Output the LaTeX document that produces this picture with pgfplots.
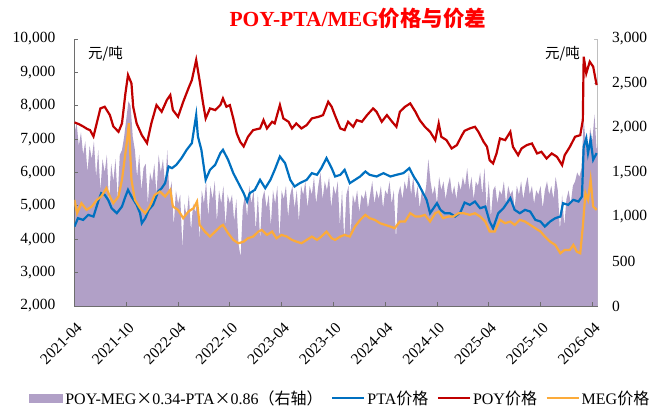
\documentclass[border=0pt]{standalone}
\usepackage{fontspec}
\setmainfont{Liberation Serif}
\newfontfamily\cjk{Noto Sans CJK SC}
\usepackage{pgfplots}
\pgfplotsset{compat=1.18}

\definecolor{spreadc}{RGB}{177,160,199}
\definecolor{ptac}{RGB}{0,112,192}
\definecolor{poyc}{RGB}{192,0,0}
\definecolor{megc}{RGB}{252,171,58}
\definecolor{axgray}{RGB}{110,110,110}
\definecolor{axlight}{RGB}{191,191,191}

\newcommand{\tickfont}{\fontsize{15.5bp}{18bp}\selectfont}
\newcommand{\legfont}{\fontsize{16bp}{18bp}\selectfont}

\pgfplotsset{
  base/.style={
    width=523bp, height=267bp, scale only axis,
    xmin=0, xmax=60.6, enlargelimits=false,
    tick align=inside, major tick length=4bp,
    ticklabel style={font=\tickfont},
    /pgf/number format/assume math mode=true,
    /pgf/number format/1000 sep={,},
    scaled y ticks=false,
  }
}

\begin{document}
\begin{tikzpicture}
% spread, right axis
\begin{axis}[base,
    axis x line=none,
    axis y line*=right,
    y axis line style={axlight, line width=0.8bp, -},
    ytick style={axlight, line width=0.8bp},
    ymin=0, ymax=3000, ytick={0,500,...,3000},
    yticklabel style={inner sep=0pt, xshift=14.5bp},
]
\addplot[fill=spreadc, draw=none] coordinates {
(0,1950) (0.25,2050) (0.5,1800) (0.75,1950) (1,1700) (1.25,1850) (1.5,1500) (1.75,1800)
(2,1650) (2.25,1850) (2.5,1450) (2.75,1750) (3,1300) (3.25,1650) (3.5,1500) (3.75,1700)
(4,1150) (4.25,1600) (4.5,1400) (4.75,1650) (5,1200) (5.25,1700) (5.5,1750) (5.75,1900)
(6,2100) (6.25,2300) (6.5,2250) (6.75,1900) (7,1750) (7.25,1450) (7.5,1700) (7.75,1300)
(8,1550) (8.25,1600) (8.5,1150) (8.75,1500) (9,1400) (9.25,1600) (9.5,1250) (9.75,1700)
(10,1500) (10.25,1650) (10.5,1350) (10.75,1750) (11,1250) (11.25,1400) (11.5,900) (11.75,1300)
(12,1150) (12.25,1250) (12.5,650) (12.75,1150) (13,1000) (13.25,1250) (13.5,850) (13.75,1150)
(14,1050) (14.25,1200) (14.5,750) (14.75,1300) (15,1150) (15.25,1400) (15.5,1000) (15.75,1350)
(16,1200) (16.25,1400) (16.5,950) (16.75,1300) (17,1150) (17.25,1350) (17.5,900) (17.75,1250)
(18,1150) (18.25,1250) (18.5,950) (18.75,1200) (19,700) (19.25,550) (19.5,1100) (19.75,1250)
(20,1000) (20.25,1350) (20.5,1150) (20.75,1300) (21,850) (21.25,1250) (21.5,750) (21.75,1200)
(22,1300) (22.25,1100) (22.5,1250) (22.75,900) (23,1300) (23.25,1150) (23.5,1350) (23.75,750)
(24,1300) (24.25,1200) (24.5,1350) (24.75,1000) (25,1250) (25.25,1350) (25.5,1100) (25.75,1300)
(26,950) (26.25,1350) (26.5,1250) (26.75,1400) (27,1100) (27.25,1350) (27.5,1250) (27.75,1450)
(28,1150) (28.25,1350) (28.5,1500) (28.75,1200) (29,1400) (29.25,1300) (29.5,1450) (29.75,1100)
(30,1350) (30.25,1250) (30.5,1400) (30.75,900) (31,1300) (31.25,750) (31.5,1250) (31.75,1350)
(32,800) (32.25,1250) (32.5,1150) (32.75,1300) (33,1050) (33.25,1250) (33.5,1200) (33.75,1300)
(34,1100) (34.25,1250) (34.5,1400) (34.75,1150) (35,1300) (35.25,1200) (35.5,1350) (35.75,1100)
(36,1300) (36.25,1250) (36.5,1400) (36.75,1150) (37,1300) (37.25,750) (37.5,1250) (37.75,1350)
(38,1200) (38.25,1400) (38.5,1300) (38.75,1500) (39,1250) (39.25,1450) (39.5,1200) (39.75,1350)
(40,1100) (40.25,1300) (40.5,1200) (40.75,1350) (41,1650) (41.25,1400) (41.5,1250) (41.75,1350)
(42,1150) (42.25,1450) (42.5,1300) (42.75,1400) (43,1200) (43.25,1350) (43.5,1450) (43.75,1250)
(44,1350) (44.25,1200) (44.5,1400) (44.75,1300) (45,1450) (45.25,1350) (45.5,1550) (45.75,1300)
(46,1450) (46.25,1200) (46.5,1400) (46.75,1350) (47,1500) (47.25,1250) (47.5,1550) (47.75,1100)
(48,1400) (48.25,1000) (48.5,1300) (48.75,1350) (49,1150) (49.25,1300) (49.5,1250) (49.75,1400)
(50,1150) (50.25,1350) (50.5,1250) (50.75,1300) (51,1100) (51.25,1350) (51.5,1250) (51.75,1400)
(52,1200) (52.25,1350) (52.5,1450) (52.75,1250) (53,1350) (53.25,1150) (53.5,1300) (53.75,1250)
(54,1350) (54.25,1100) (54.5,1300) (54.75,1400) (55,1250) (55.25,1350) (55.5,1200) (55.75,1450)
(56,1300) (56.25,850) (56.5,1250) (56.75,900) (57,1200) (57.25,1300) (57.5,1150) (57.75,1350)
(58,1400) (58.25,1500) (58.5,1450) (58.75,1550) (59,2100) (59.25,1800) (59.5,1700) (59.75,2000)
(60,1850) (60.25,2150) (60.5,1750) (60.6,1800)
} \closedcycle;
\end{axis}

% prices, left axis
\begin{axis}[base,
    axis x line*=bottom,
    axis y line*=left,
    axis line style={axgray, line width=0.8bp, -},
    tick style={axgray, line width=0.8bp},
    ymin=2000, ymax=10000, ytick={2000,3000,...,10000},
    yticklabel style={inner sep=0pt, xshift=-19bp},
    xtick={0,6,...,60},
    xticklabels={2021-04,2021-10,2022-04,2022-10,2023-04,2023-10,2024-04,2024-10,2025-04,2025-10,2026-04},
    xticklabel style={xshift=5bp, yshift=-19bp, rotate=45, anchor=east, inner sep=0pt},
    legend style={draw=none, fill=none, at={(0.508,-0.345)}, anchor=center,
      legend columns=4, font=\legfont, inner sep=0pt,
      /tikz/every even column/.append style={column sep=6.5bp}},
    legend image code/.code={\draw[#1] (0bp,0bp) -- (32bp,0bp);},
    every axis plot/.append style={line width=2.2bp},
]
\addlegendimage{legend image code/.code={\fill[spreadc] (0bp,-3.5bp) rectangle (32bp,3.5bp);}}
\addlegendentry{POY-MEG{\cjk ×}0.34-PTA{\cjk ×}0.86{\cjk （右轴）}}

% PTA
\addplot[ptac] coordinates {
(0,4380) (0.4,4630) (1.0,4580) (1.6,4730) (2.2,4680) (2.8,5180) (3.1,5380) (3.5,5330)
(3.9,5180) (4.3,4930) (4.9,4780) (5.5,4980) (5.9,5280) (6.2,5480) (6.6,5280) (7.2,5030)
(7.6,4780) (7.8,4480) (8.2,4630) (8.6,4880) (9.1,5030) (9.7,5430) (10.1,5530) (10.5,5680)
(10.9,6180) (11.3,6130) (11.8,6230) (12.4,6430) (13.0,6680) (13.6,6880) (14.1,7720) (14.3,7080)
(14.7,6680) (15.2,5780) (15.7,6080) (16.3,6230) (16.9,6580) (17.2,6680) (17.8,6380) (18.4,5980)
(19.0,5680) (19.6,5380) (20.0,5130) (20.3,5380) (20.9,5480) (21.5,5780) (22.1,5530) (22.7,5780)
(23.2,6080) (23.8,6480) (24.4,6280) (25.0,5780) (25.5,5580) (26.1,5680) (26.9,5780) (27.5,5980)
(28.1,5930) (28.6,6130) (29.2,6430) (29.8,6130) (30.2,5880) (30.8,5930) (31.3,6080) (31.9,5680)
(32.5,5780) (33.1,5880) (33.7,6030) (34.2,5930) (35.0,5880) (35.8,5980) (36.6,5880) (37.3,5930)
(38.1,5980) (38.8,6130) (39.3,5880) (39.8,5680) (40.4,5380) (40.8,5180) (41.2,4780) (41.6,4930)
(42.0,5080) (42.4,4880) (42.9,4780) (43.5,4780) (44.1,4680) (44.7,4800) (45.2,5100) (45.8,5030)
(46.4,5130) (47.0,4930) (47.6,4980) (48.1,4530) (48.5,4330) (49.1,4780) (49.7,4930) (50.5,5230)
(51.0,4880) (51.6,4780) (52.2,4880) (52.8,4830) (53.4,4580) (54.0,4530) (54.5,4380) (55.1,4530)
(55.7,4630) (56.3,4680) (56.6,5080) (57.2,5030) (57.8,5180) (58.4,5130) (58.8,5280) (59.0,6780)
(59.3,7030) (59.5,6580) (59.8,6980) (60.1,6380) (60.5,6580)
};
\addlegendentry{PTA{\cjk 价格}}

% POY
\addplot[poyc] coordinates {
(0,7500) (0.5,7450) (1.0,7380) (1.5,7300) (1.8,7270) (2.2,7080) (2.6,7500) (3.0,7920)
(3.5,7970) (4.1,7720) (4.5,7380) (5.1,7220) (5.5,7470) (5.9,8370) (6.2,8920) (6.6,8670)
(6.8,7970) (7.2,7470) (7.8,7120) (8.4,6880) (8.9,7470) (9.5,8020) (10.1,7820) (10.7,8170)
(11.1,8320) (11.4,7870) (12.0,7670) (12.6,8120) (13.2,8520) (13.6,8770) (14.1,9370) (14.5,8750)
(14.9,8070) (15.2,7620) (15.7,7920) (16.3,7870) (16.9,8020) (17.2,8220) (17.6,7970) (18.0,8020)
(18.4,7620) (18.8,7170) (19.2,6920) (19.6,6780) (20.1,7070) (20.7,7270) (21.5,7320) (21.9,7570)
(22.3,7320) (22.9,7520) (23.2,7470) (23.8,8020) (24.2,7620) (24.8,7520) (25.2,7320) (25.7,7470)
(26.3,7320) (26.9,7420) (27.5,7620) (28.3,7670) (28.8,7720) (29.4,8120) (29.8,7970) (30.2,7700)
(30.8,7320) (31.3,7270) (31.7,7520) (32.3,7370) (32.7,7570) (33.3,7520) (33.9,7720) (34.6,7920)
(35.0,7820) (35.6,7520) (36.2,7720) (36.8,7520) (37.3,7370) (37.7,7820) (38.3,7970) (38.9,8070)
(39.5,7820) (40.0,7570) (40.6,7370) (41.2,7220) (41.8,6970) (42.2,7470) (42.5,7070) (43.1,6970)
(43.7,6720) (44.3,6820) (44.9,7120) (45.2,7250) (45.8,7320) (46.4,7370) (46.8,7220) (47.4,6920)
(47.8,6770) (48.1,6370) (48.5,6270) (48.9,6570) (49.3,7020) (49.9,6970) (50.5,7220) (50.8,6770)
(51.4,6520) (51.8,6720) (52.4,6820) (53.0,6870) (53.6,6570) (54.1,6620) (54.7,6420) (55.3,6570)
(55.9,6470) (56.5,6220) (56.8,6520) (57.4,6770) (58.0,7070) (58.6,7120) (58.9,7570) (59.0,9470)
(59.3,8970) (59.7,9320) (60.1,9170) (60.5,8620)
};
\addlegendentry{POY{\cjk 价格}}

% MEG
\addplot[megc] coordinates {
(0,5180) (0.3,4780) (0.8,5080) (1.4,4880) (2.0,4980) (2.6,5180) (3.1,5280) (3.7,5530)
(4.1,5280) (4.5,5080) (5.1,5280) (5.5,5780) (5.9,6580) (6.1,6980) (6.3,7480) (6.6,5780)
(7.0,5180) (7.6,4930) (8.2,4780) (8.7,4980) (9.3,5330) (9.9,5430) (10.5,5280) (11.1,5480)
(11.4,4980) (12.0,4880) (12.6,4630) (13.2,4830) (13.8,4930) (14.2,5130) (14.5,4430) (15.1,4230)
(15.7,4080) (16.3,4230) (16.9,4380) (17.2,4430) (17.8,4180) (18.4,3980) (19.0,3880) (19.6,3930)
(20.1,4030) (20.7,4080) (21.3,4230) (21.7,4280) (22.3,4130) (22.9,4230) (23.4,4030) (24.0,4130)
(24.6,4080) (25.2,3980) (25.7,3930) (26.3,3880) (26.9,3980) (27.5,4080) (28.1,3980) (28.6,4080)
(29.2,4230) (29.8,4030) (30.2,3980) (30.8,4080) (31.3,4130) (31.9,4080) (32.5,4380) (33.1,4580)
(33.7,4730) (34.2,4630) (34.8,4580) (35.4,4480) (36.0,4430) (36.6,4380) (37.1,4330) (37.7,4530)
(38.3,4530) (38.9,4780) (39.5,4680) (40.0,4680) (40.6,4730) (41.2,4530) (41.8,4780) (42.2,4830)
(42.7,4630) (43.3,4680) (43.9,4680) (44.5,4780) (45.1,4780) (45.8,4730) (46.4,4780) (47.0,4680)
(47.6,4530) (48.1,4230) (48.7,4230) (49.3,4580) (49.9,4480) (50.5,4530) (51.0,4430) (51.6,4580)
(52.2,4530) (52.8,4430) (53.4,4330) (54.0,4230) (54.5,4080) (55.1,3930) (55.7,3830) (56.3,3580)
(56.8,3680) (57.4,3680) (57.8,3830) (58.2,3630) (58.6,3580) (58.9,4380) (59.2,5380) (59.5,5180)
(59.8,5780) (60.1,4980) (60.5,4880)
};
\addlegendentry{MEG{\cjk 价格}}

\coordinate (bl) at (rel axis cs:0,0);
\coordinate (tr) at (rel axis cs:1,1);
\end{axis}

\node[font=\fontsize{14.5bp}{16bp}\selectfont\cjk, inner sep=0pt] at ([shift={(31bp,252bp)}]bl) {元/吨};
\node[font=\fontsize{14.5bp}{16bp}\selectfont\cjk, inner sep=0pt] at ([shift={(488bp,252bp)}]bl) {元/吨};
\node[font=\fontsize{21.5bp}{24bp}\selectfont\bfseries, text=red, inner sep=0pt]
  at ([shift={(283.5bp,288bp)}]bl) {POY-PTA/MEG{\cjk 价格与价差}};

\pgfresetboundingbox
\path[use as bounding box] ([shift={(-74.5bp,-111bp)}]bl) rectangle ([shift={(54.5bp,39bp)}]tr);
\end{tikzpicture}
\end{document}
